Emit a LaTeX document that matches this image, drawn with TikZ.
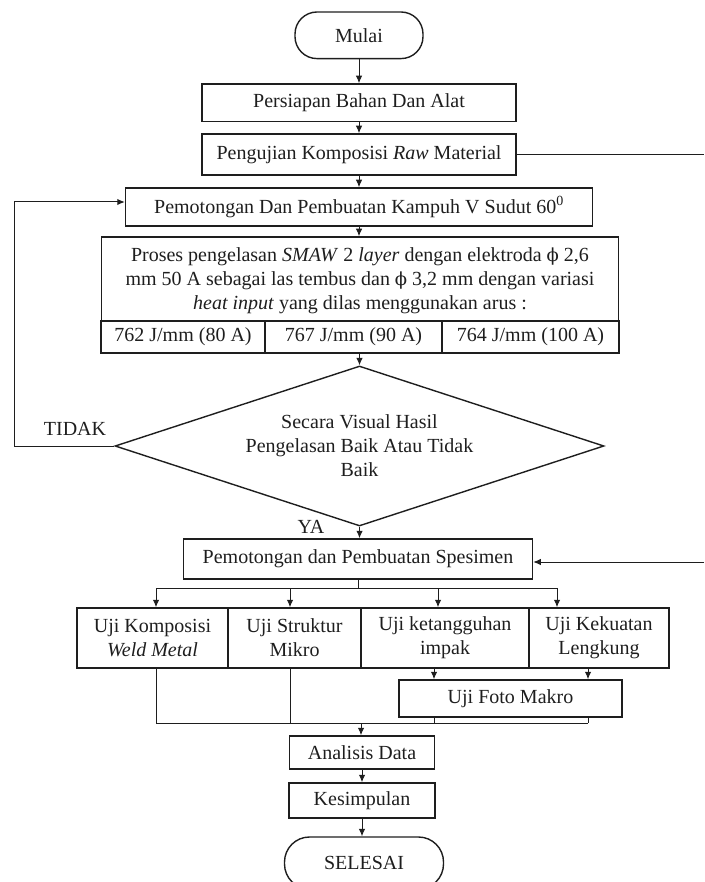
\documentclass[tikz,border=0pt]{standalone}
\usepackage{fontspec}
\setmainfont{Liberation Serif}
\newfontfamily\phifont[Scale=0.9]{DejaVu Serif}
\newcommand{\phichar}{{\phifont ϕ}}
\usetikzlibrary{arrows.meta,shapes.geometric}
\definecolor{ink}{RGB}{30,30,30}
\begin{document}
\begin{tikzpicture}[x=1pt,y=-1pt,
  every node/.style={font=\fontsize{20}{24}\selectfont, text=ink},
  boxnode/.style={draw=ink, line width=1.5pt, rectangle, inner sep=0pt, align=center},
  termnode/.style={draw=ink, line width=1.4pt, rectangle, rounded corners=22pt, inner sep=0pt},
  decnode/.style={draw=ink, line width=1.4pt, diamond, inner sep=0pt, align=center},
  conn/.style={draw=ink, line width=1pt},
  arr/.style={conn, -{Latex[length=7.5pt,width=6.5pt]}}
]
\useasboundingbox (0,0) rectangle (704,882);

% top column
\node[termnode, minimum width=128pt, minimum height=46.6pt] (mulai) at (359,35.3) {Mulai};
\node[boxnode, minimum width=314pt, minimum height=37.5pt] (persiapan) at (359,102.75) {Persiapan Bahan Dan Alat};
\node[boxnode, minimum width=314pt, minimum height=41pt] (uji) at (359,154.5) {Pengujian Komposisi \textit{Raw} Material};
\node[boxnode, minimum width=467pt, minimum height=38pt] (kampuh) at (359,207) {Pemotongan Dan Pembuatan Kampuh V Sudut 60\textsuperscript{0}};

% welding box
\node[boxnode, minimum width=517pt, minimum height=116pt] (weld) at (360,295) {};
\node[align=center, inner sep=0pt] (weldtxt) at (360,281) {Proses pengelasan \textit{SMAW} 2 \textit{layer} dengan elektroda \phichar{} 2,6\\ mm 50 A sebagai las tembus dan \phichar{} 3,2 mm dengan variasi\\ \textit{heat input} yang dilas menggunakan arus :};
\node[boxnode, minimum width=164pt, minimum height=32pt] (c1) at (183,337) {762 J/mm (80 A)};
\node[boxnode, minimum width=177pt, minimum height=32pt] (c2) at (353.5,337) {767 J/mm (90 A)};
\node[boxnode, minimum width=177pt, minimum height=32pt] (c3) at (530.5,337) {764 J/mm (100 A)};

% decision
\node[decnode, minimum width=489pt, minimum height=160pt, aspect=3.05] (dia) at (359.5,446) {Secara Visual Hasil\\ Pengelasan Baik Atau Tidak\\ Baik};
\node (tidak) at (75,429) {TIDAK};
\node (ya) at (311,527) {YA};

\node[boxnode, minimum width=349pt, minimum height=40pt] (spes) at (358,559) {Pemotongan dan Pembuatan Spesimen};

% tests
\node[boxnode, minimum width=151pt, minimum height=60pt] (t1) at (152.5,638) {Uji Komposisi\\ \textit{Weld Metal}};
\node[boxnode, minimum width=133pt, minimum height=60pt] (t2) at (294.5,638) {Uji Struktur\\ Mikro};
\node[boxnode, minimum width=168pt, minimum height=60pt] (t3) at (445,638) {Uji ketangguhan\\ impak};
\node[boxnode, minimum width=140pt, minimum height=60pt] (t4) at (599,638) {Uji Kekuatan\\ Lengkung};
\node[boxnode, minimum width=223pt, minimum height=37pt] (foto) at (510.5,698.5) {Uji Foto Makro};

\node[boxnode, minimum width=145pt, minimum height=33pt] (ana) at (362,752.5) {Analisis Data};
\node[boxnode, minimum width=146pt, minimum height=35pt] (kes) at (362,800.5) {Kesimpulan};
\node[termnode, rounded corners=25pt, minimum width=159pt, minimum height=52pt] (sel) at (364,863) {SELESAI};

% coordinates
\coordinate (eR1) at (704,153);
\coordinate (eR2) at (704,562);
\coordinate (lpB) at (14,446);
\coordinate (br) at (358,588);
\coordinate (b1) at (156,588);
\coordinate (b2) at (290,588);
\coordinate (b3) at (438,588);
\coordinate (b4) at (557,588);
\coordinate (j1) at (156,723);
\coordinate (j2) at (290,723);
\coordinate (f1) at (434,723);
\coordinate (f2) at (588,723);
\coordinate (jm) at (361,723);

% connectors
\draw[arr] (mulai) -- (persiapan);
\draw[arr] (persiapan) -- (uji);
\draw[arr] (uji) -- (kampuh);
\draw[arr] (kampuh.south) -- (kampuh.south |- weld.north);
\draw[arr] (dia.north |- weld.south) -- (dia.north);
\draw[arr] (dia.south) -- (dia.south |- spes.north);
\draw[conn] (uji.east) -- (uji.east -| eR1);
\draw[arr] (eR2) -- (eR2 -| spes.east);
\draw[arr] (dia.west) -- (lpB) |- ([yshift=5pt]kampuh.west);

\draw[conn] (spes.south) -- (br);
\draw[conn] (b1) -- (b4);
\draw[arr] (b1) -- (b1 |- t1.north);
\draw[arr] (b2) -- (b2 |- t2.north);
\draw[arr] (b3) -- (b3 |- t3.north);
\draw[arr] (b4) -- (b4 |- t4.north);

\draw[conn] (j1 |- t1.south) -- (j1);
\draw[conn] (j2 |- t2.south) -- (j2);
\draw[arr] (f1 |- t3.south) -- (f1 |- foto.north);
\draw[arr] (f2 |- t4.south) -- (f2 |- foto.north);
\draw[conn] (f1 |- foto.south) -- (f1);
\draw[conn] (f2 |- foto.south) -- (f2);
\draw[conn] (j1) -- (f2);
\draw[arr] (jm) -- (jm |- ana.north);
\draw[arr] (ana) -- (kes);
\draw[arr] (kes.south) -- (kes.south |- sel.north);
\end{tikzpicture}
\end{document}
